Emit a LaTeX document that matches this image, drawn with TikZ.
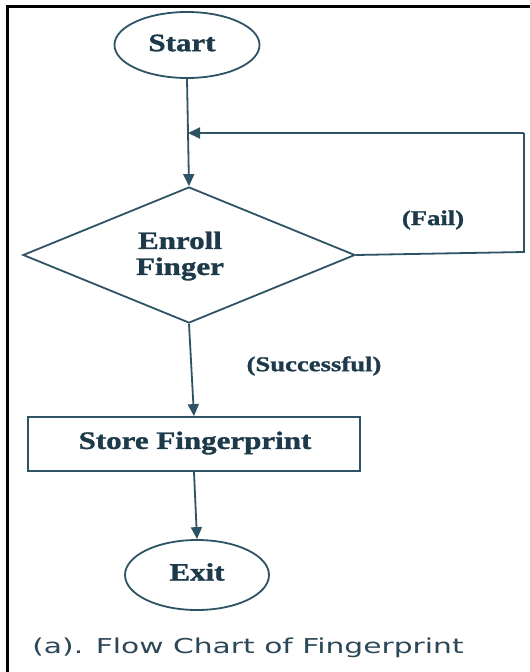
\documentclass[tikz,border=0pt]{standalone}
\usepackage{fontspec}
\usetikzlibrary{shapes.geometric,arrows.meta}
\newfontfamily\flowfont[FakeStretch=1.24,FakeBold=1.2]{Liberation Serif}
\newfontfamily\lblfont[FakeStretch=1.27,FakeBold=1.2]{Liberation Serif}
\newfontfamily\capfont[FakeStretch=1.45]{DejaVu Sans}
\definecolor{linec}{HTML}{2E5364}
\definecolor{textc}{HTML}{1C3A4A}
\definecolor{capc}{HTML}{2C4858}
\begin{document}
\begin{tikzpicture}[x=1pt,y=-1pt,
  shapeline/.style={draw=linec,line width=1.8pt,inner sep=0pt},
  term/.style={shapeline,ellipse},
  decis/.style={shapeline,diamond},
  procbox/.style={shapeline,rectangle},
  maintext/.style={text=textc,font=\flowfont\bfseries\fontsize{25}{26}\selectfont,align=center},
  edgetext/.style={text=textc,font=\lblfont\bfseries\fontsize{21}{22}\selectfont},
  conn/.style={draw=linec,line width=1.8pt,-{Triangle[length=12pt,width=11pt]}},
  plain/.style={draw=linec,line width=1.8pt}]
\useasboundingbox (0,0) rectangle (530,672);
\fill[white] (0,0) rectangle (530,672);
% frame
\draw[black,line width=3pt] (7.5,672) -- (7.5,6) -- (530,6);
% nodes
\node[term,minimum width=145pt,minimum height=66pt] (start) at (187,45) {};
\node[maintext] (starttxt) at (182,43) {Start};
\node[decis,minimum width=332pt,minimum height=136pt] (enroll) at (189,255) {};
\node[maintext] (enrolltxt) at (180,256) {Enroll\\Finger};
\node[procbox,minimum width=332pt,minimum height=54pt] (store) at (194,444) {};
\node[maintext] (storetxt) at (195,443) {Store Fingerprint};
\node[term,minimum width=144pt,minimum height=70pt] (exit) at (197,575) {};
\node[maintext] (exittxt) at (197,572) {Exit};
\node[edgetext] (fail) at (433,220) {(Fail)};
\node[edgetext] (succ) at (314,366) {(Successful)};
\node[text=capc,font=\capfont\fontsize{20.5}{21}\selectfont] (caption) at (248,648) {(a). Flow Chart of Fingerprint};
% connectors
\coordinate (loopin) at (188,133);
\coordinate (loopr) at (524,252);
\coordinate (loopt) at (524,133);
\draw[conn] (start.south) -- (enroll.north);
\draw[plain] (enroll.east) -- (loopr) -- (loopt);
\draw[conn] (loopt) -- (loopin);
\draw[conn] (enroll.south) -- (store.north);
\draw[conn] (store.south) -- (exit.north);
\end{tikzpicture}
\end{document}
